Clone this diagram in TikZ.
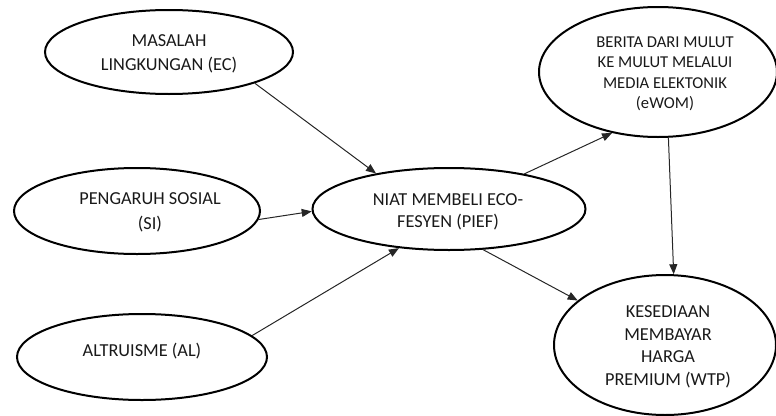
\documentclass[tikz,border=0pt]{standalone}
\usepackage{fontspec}
\setmainfont{Carlito}
\usetikzlibrary{shapes.geometric,arrows.meta}
\tikzset{
  ell/.style={draw=black, line width=2pt, ellipse, inner sep=0pt},
  lbl/.style={align=center, text=black!90, inner sep=0pt},
  arr/.style={draw=black!85, line width=1pt, -{Triangle[length=10pt,width=8pt]}},
}
\begin{document}
\begin{tikzpicture}[x=1pt,y=-1pt]
\useasboundingbox (0,0) rectangle (776,415);
% ellipses
\node[ell, minimum width=248pt, minimum height=84pt] (ec) at (169,52) {};
\node[ell, minimum width=246pt, minimum height=86pt] (si) at (137,211) {};
\node[ell, minimum width=250pt, minimum height=86pt] (al) at (142,357) {};
\node[ell, minimum width=273pt, minimum height=82pt] (pief) at (449,209) {};
\node[ell, minimum width=238pt, minimum height=130pt] (ewom) at (658,72) {};
\node[ell, minimum width=222pt, minimum height=140pt] (wtp) at (665,345) {};
% labels
\node[lbl, font=\fontsize{18.3}{24}\selectfont] (ect) at (169,54) {MASALAH\\LINGKUNGAN (EC)};
\node[lbl, font=\fontsize{18.3}{25}\selectfont] (sit) at (150,212) {PENGARUH SOSIAL\\(SI)};
\node[lbl, font=\fontsize{18.3}{24}\selectfont] (alt) at (142,351) {ALTRUISME (AL)};
\node[lbl, font=\fontsize{18.3}{21.5}\selectfont] (pieft) at (448,212) {NIAT MEMBELI ECO-\\FESYEN (PIEF)};
\node[lbl, font=\fontsize{16.6}{20.5}\selectfont] (ewomt) at (665,74) {BERITA DARI MULUT\\KE MULUT MELALUI\\MEDIA ELEKTONIK\\(eWOM)};
\node[lbl, font=\fontsize{18.3}{22.5}\selectfont] (wtpt) at (668,347) {KESEDIAAN\\MEMBAYAR\\HARGA\\PREMIUM (WTP)};
% connectors
\draw[arr] (ec.-20) -- (pief.154);
\draw[arr] (si.-4) -- (pief.181);
\draw[arr] (al.11) -- (pief.218);
\draw[arr] (pief.25) -- (ewom.233);
\draw[arr] (ewom.-81) -- (wtp.83);
\draw[arr] (pief.-50) -- (wtp.153);
\end{tikzpicture}
\end{document}
